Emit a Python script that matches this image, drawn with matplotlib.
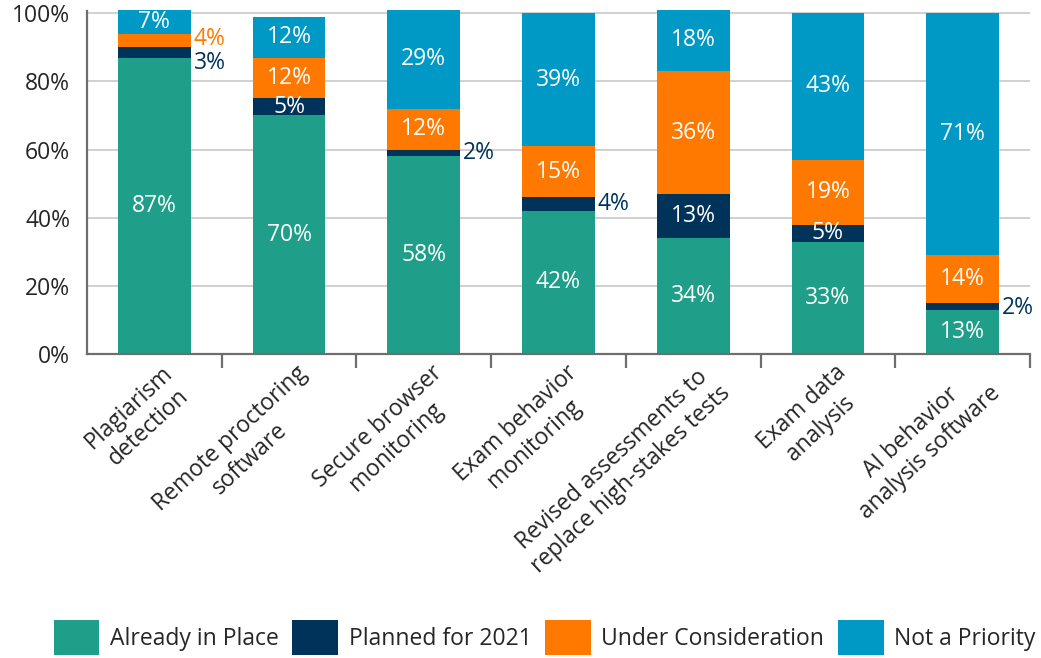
import matplotlib
matplotlib.use("Agg")
import matplotlib.pyplot as plt
import matplotlib.transforms as mtransforms
import numpy as np
from matplotlib.patches import Patch
from matplotlib.ticker import FixedLocator

plt.rcParams["font.family"] = ["Open Sans", "DejaVu Sans"]

categories = [
    "Plagiarism\ndetection",
    "Remote proctoring\nsoftware",
    "Secure browser\nmonitoring",
    "Exam behavior\nmonitoring",
    "Revised assessments to\nreplace high-stakes tests",
    "Exam data\nanalysis",
    "AI behavior\nanalysis software",
]
already = [87, 70, 58, 42, 34, 33, 13]
planned = [3, 5, 2, 4, 13, 5, 2]
considering = [4, 12, 12, 15, 36, 19, 14]
not_priority = [7, 12, 29, 39, 18, 43, 71]

series_names = ["Already in Place", "Planned for 2021", "Under Consideration", "Not a Priority"]
colors = ["#1F9E89", "#00335A", "#FF7900", "#0098C4"]

# segments too thin for an inside label get an outside one, to the right
outside = {(0, 1), (0, 2), (2, 1), (3, 1), (6, 1)}
outside_shift = {(0, 1): -3.2, (0, 2): 0.4, (6, 1): -0.6}

FS = 16.5
TEXT = "#262626"

fig = plt.figure(figsize=(10.41, 6.58), dpi=100)
ax = fig.add_axes([0.0836, 0.462, 0.9058, 0.521])

x = np.arange(len(categories))
width = 0.54
bottom = np.zeros(len(categories))
for s, (vals, color) in enumerate(zip([already, planned, considering, not_priority], colors)):
    vals = np.array(vals, dtype=float)
    ax.bar(x, vals, width, bottom=bottom, color=color, zorder=3, clip_on=False)
    for i, v in enumerate(vals):
        yc = bottom[i] + v / 2
        if (i, s) in outside:
            ax.text(x[i] + width / 2 + 0.02, yc + outside_shift.get((i, s), 0),
                    f"{v:.0f}%", ha="left", va="center", color=color,
                    fontsize=FS, zorder=4)
        else:
            ax.text(x[i], yc, f"{v:.0f}%", ha="center", va="center",
                    color="white", fontsize=FS, zorder=4)
    bottom += vals

ax.set_xlim(-0.5, len(categories) - 0.5)
ax.set_ylim(0, 100.6)
ax.set_yticks(np.arange(0, 101, 20))
ax.set_yticklabels([f"{t}%" for t in range(0, 101, 20)], fontsize=FS, color=TEXT)
ax.tick_params(axis="y", length=0, pad=12)
ax.grid(axis="y", color="#C8C8C8", linewidth=1.2, zorder=0)

# category labels, with tick marks on the boundaries between categories
ax.set_xticks(x)
ax.set_xticklabels(categories, rotation=43, ha="right", va="top",
                   rotation_mode="anchor", multialignment="center",
                   fontsize=FS, color=TEXT)
ax.tick_params(axis="x", length=0, pad=5)
shift = mtransforms.ScaledTranslation(7 / 100, 0, fig.dpi_scale_trans)
for lbl in ax.get_xticklabels():
    lbl.set_transform(lbl.get_transform() + shift)
ax.xaxis.set_minor_locator(FixedLocator(np.arange(-0.5, len(categories), 1)[1:]))
ax.tick_params(axis="x", which="minor", length=10, width=1.6, color="#6E6E6E", direction="out")

for side in ["top", "right"]:
    ax.spines[side].set_visible(False)
for side in ["left", "bottom"]:
    ax.spines[side].set_color("#6E6E6E")
    ax.spines[side].set_linewidth(1.6)
    ax.spines[side].set_zorder(5)

handles = [Patch(facecolor=c, edgecolor="none") for c in colors]
fig.legend(handles, series_names, loc="lower center", bbox_to_anchor=(0.523, -0.013),
           ncol=4, frameon=False, fontsize=FS, handlelength=2.0, handleheight=2.0,
           handletextpad=0.45, columnspacing=0.6, borderpad=0, labelcolor=TEXT)

fig.savefig("out.png", dpi=100)
